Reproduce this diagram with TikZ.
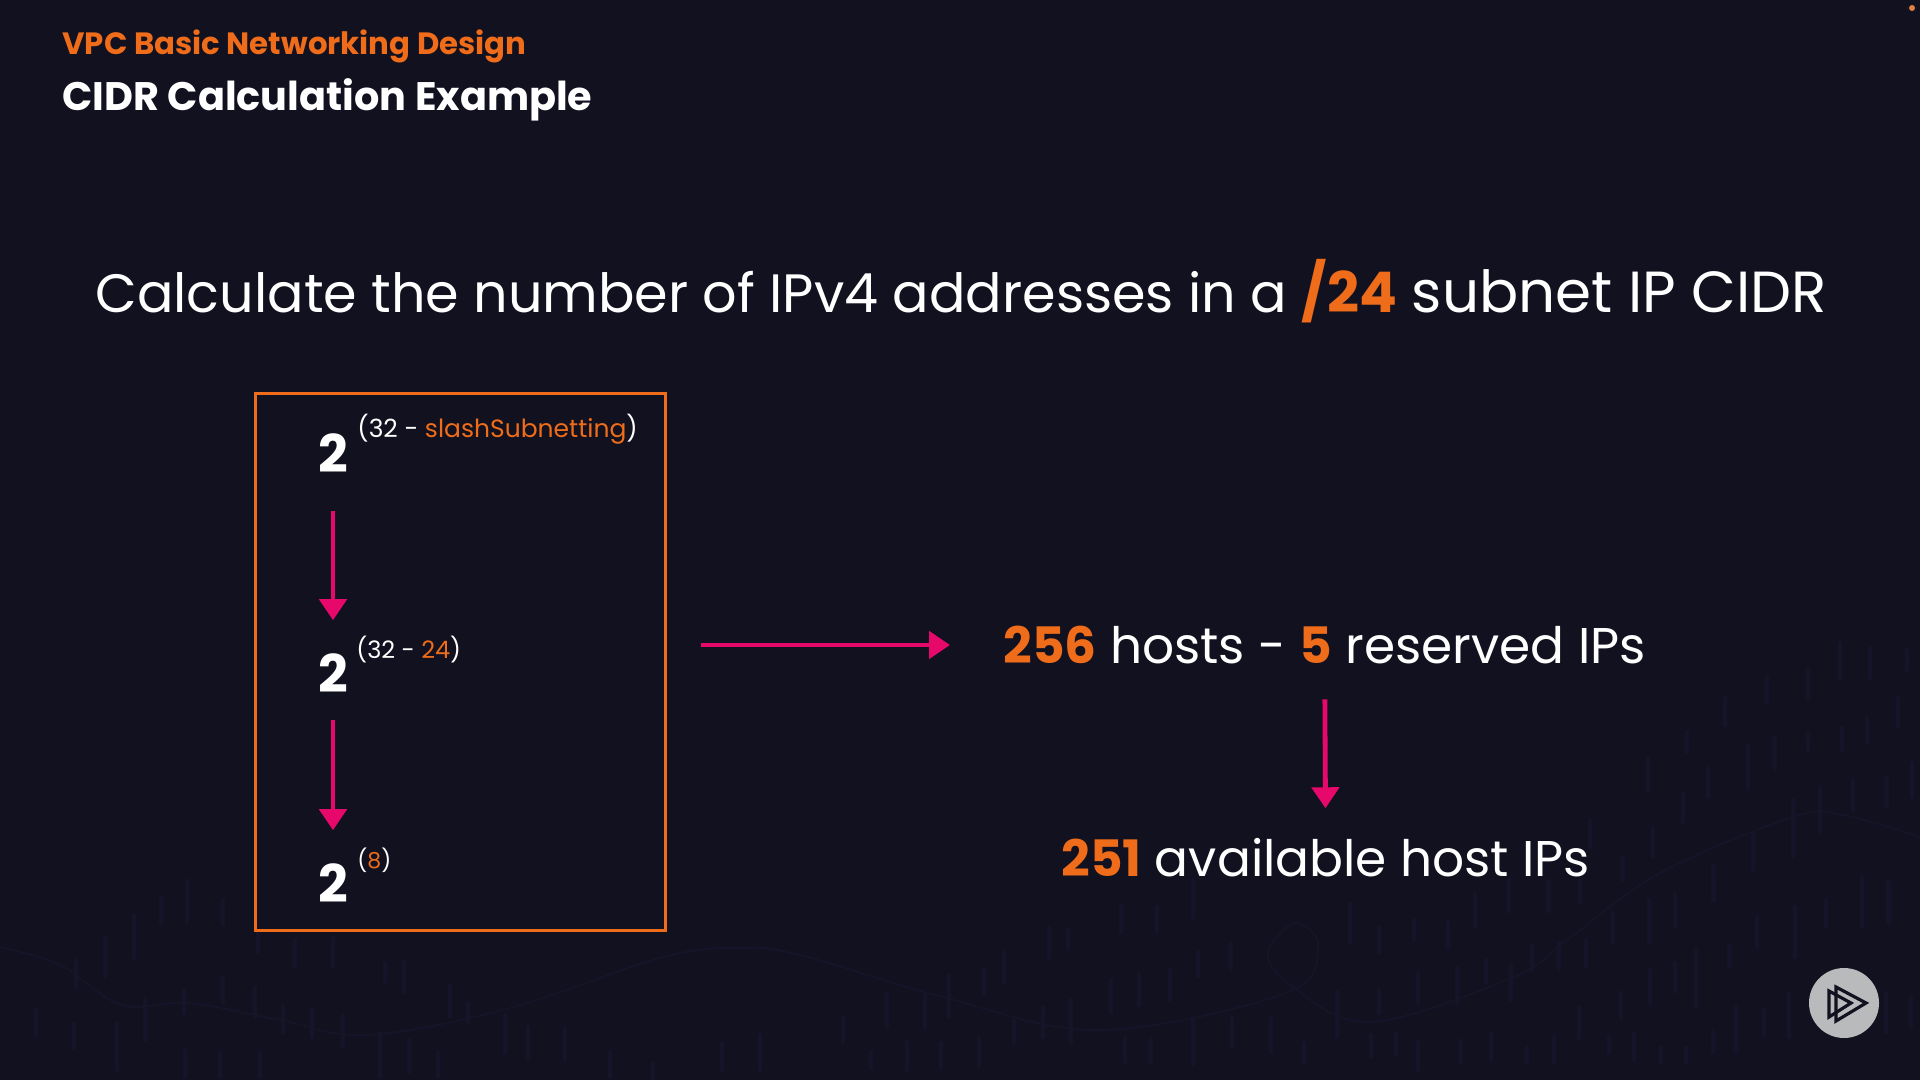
\documentclass[tikz,border=0pt]{standalone}
\usepackage{fontspec}
\setmainfont{Poppins}
\usepackage{xcolor}
\usetikzlibrary{positioning,arrows.meta}
\definecolor{psBack}{HTML}{12111F}
\definecolor{psTick}{HTML}{161428}
\definecolor{psOrange}{HTML}{EE6C1A}
\definecolor{psPink}{HTML}{E6086B}
\definecolor{psLogo}{HTML}{B9BABC}
\tikzset{
  ps-text/.style={text=white, inner sep=0pt, anchor=west},
  ps-kicker/.style={ps-text, text=psOrange, font=\fontsize{15.4}{18}\selectfont\bfseries},
  ps-title/.style={ps-text, font=\fontsize{19.9}{23}\selectfont\bfseries},
  ps-lead/.style={ps-text, font=\fontsize{27}{32}\selectfont},
  ps-base/.style={text=white, inner sep=0pt, font=\fontsize{26}{30}\selectfont\bfseries},
  ps-exp/.style={ps-text, font=\fontsize{12.5}{15}\selectfont},
  ps-result/.style={ps-text, font=\fontsize{25.1}{29}\selectfont},
  ps-frame/.style={draw=psOrange, line width=1.5pt, minimum width=205pt, minimum height=268.5pt, inner sep=0pt},
  ps-flow/.style={-{Triangle[length=10.5pt,width=13.5pt]}, line width=2.4pt, draw=psPink},
  ps-tick/.style={draw=psTick, line width=2pt, line cap=round},
  ps-wave/.style={draw=psTick, line width=0.9pt},
  ps-mark/.style={draw=psBack, line width=1.6pt, line join=miter}
}
\newcommand{\hl}[1]{\textcolor{psOrange}{#1}}
\newcommand{\hlb}[1]{\textcolor{psOrange}{\bfseries #1}}
\begin{document}
\begin{tikzpicture}[x=0.5pt, y=-0.5pt]
\fill[psBack] (0,0) rectangle (1920,1080);
\useasboundingbox (0,0) rectangle (1920,1080);
% --- Texture ---
\foreach \tx/\ta/\tb in {187/880/923,161/897/923,223/900/925,134/915/958,105/937/977,76/960/987,
  258/933/952,295/940/967,333/938/967,385/963/982,404/962/993,450/985/1017,468/1003/1023,
  223/977/1003,255/987/1017,184/990/1013,145/998/1040,283/1005/1033,312/1008/1037,343/1015/1047,
  380/1033/1077,409/1040/1072,438/1052/1077,505/1015/1053,528/1027/1060,565/1028/1060,36/1010/1035,
  74/1023/1048,117/1023/1070,185/1050/1077,220/1053/1077,260/1053/1077,610/1052/1077,722/1043/1070,
  760/1035/1070,653/1063/1080,1121/905/932,1157/907/932,1193/880/918,1049/927/958,1068/930/948,
  1004/952/983,984/968/995,949/975/1017,925/995/1028,887/993/1027,843/1017/1043,1014/1020/1043,
  1043/1007/1037,1071/1000/1043,1111/980/1013,1139/973/1005,1170/970/1000,1198/952/977,1231/943/970,
  1193/1018/1065,1232/1018/1048,1271/1018/1052,1125/1038/1062,1151/1038/1063,979/1037/1067,
  941/1043/1068,907/1042/1070,871/1052/1068,1350/903/943,1379/927/953,1414/920/940,1448/922/948,
  1475/893/927,1509/880/912,1549/880/912,1580/880/902,1532/945/970,1559/943/970,1586/940/967,
  1613/913/943,1649/900/943,1675/893/927,1714/880/900,1757/917/947,1795/907/957,1826/900/927,
  1862/887/923,1889/883/923,1486/960/983,1511/965/1000,1457/968/1003,1418/973/1003,1379/990/1013,
  1337/992/1037,1304/1043/1063,1371/1035/1057,1396/1033/1055,1418/1042/1070,1461/1040/1063,
  1491/1033/1060,1527/1047/1063,1554/1037/1063,1579/1007/1038,1609/1037/1053,1634/1033/1060,
  1661/1047/1063,1686/1047/1063,1713/1030/1052,1736/1007/1052,1764/1010/1035,1789/993/1037,
  1621/992/1018,1650/970/1003,1675/963/992,1696/948/1007,1729/945/967,1886/993/1033,1911/997/1027,
  1840/643/680,1870/648/678,1907/650/670,1808/668/700,1767/677/703,1725/698/725,1898/698/727,
  1867/718/743,1842/727/750,1808/732/750,1775/737/770,1748/745/788,1687/732/752,1708/768/797,
  1648/757/792,1683/793/822,1912/763/797,1887/777/807,1853/780/810,1820/788/832,1793/800/857,
  1753/833/870,1713/865/900,1653/828/857,1623/857/880,1590/820/847,1675/893/923,1580/880/902,
  1548/883/910,1862/877/927,1888/880/923}
  \draw[ps-tick] (\tx,\ta) -- (\tx,\tb);
\draw[ps-wave] plot[smooth, tension=0.6] coordinates {(0,947) (60,965) (122,1005) (189,1003) (280,1020)
  (367,1035) (510,1008) (663,957) (740,948) (800,955) (943,997) (1100,1030) (1286,993) (1318,947)
  (1296,923) (1268,953) (1293,987) (1371,1022) (1514,977) (1567,940) (1660,873) (1793,817)
  (1843,815) (1920,837)};
% --- Heading ---
\node[ps-kicker] (kicker) at (62,46) {VPC Basic Networking Design};
\node[ps-title] (title) at (62,100) {CIDR Calculation Example};
\node[ps-lead] (lead) at (95,291) {Calculate the number of IPv4 addresses in a {\fontsize{28}{32}\selectfont\hlb{/24} \fontsize{29}{32}\selectfont subnet IP CIDR}};
% --- Formula ---
\node[ps-frame] (frame) at (460.5,662) {};
\node[ps-base] (baseA) at (333,453) {2};
\node[ps-base] (baseB) at (333,673) {2};
\node[ps-base] (baseC) at (333,883) {2};
\node[ps-exp] (expA) at (357,429) {(32 - \hl{slashSubnetting})};
\node[ps-exp, font=\fontsize{12}{15}\selectfont] (expB) at (356,650) {(32 - \hl{24})};
\node[ps-exp, font=\fontsize{11}{15}\selectfont] (expC) at (357,860) {(\hl{8})};
% --- Result ---
\node[ps-result] (hosts) at (1003,645) {\hlb{256} hosts - \hlb{5} reserved IPs};
\node[ps-result] (avail) at (1061,858) {\hlb{251} available host IPs};
% --- Flow ---
\draw[ps-flow, shorten <=19pt, shorten >=16.5pt] (baseA) -- (baseB);
\draw[ps-flow, shorten <=13.5pt, shorten >=16.5pt] (baseB) -- (baseC);
\draw[ps-flow, shorten <=17pt, shorten >=26.5pt] (frame.east |- hosts.west) -- (hosts.west);
\draw[ps-flow, shorten <=17.5pt, shorten >=15pt] (hosts) -- (avail);
% --- Mark ---
\node[circle, fill=psLogo, minimum size=35pt, inner sep=0pt] (logo) at (1844,1003) {};
\draw[ps-mark] (1836,987) -- (1866,1003) -- (1836,1021) -- cycle;
\draw[ps-mark] (1829,991) -- (1851,1003) -- (1829,1017) -- cycle;
\node[circle, fill=psOrange!75!psLogo, minimum size=3pt, inner sep=0pt] (dot) at (1912,8) {};
\end{tikzpicture}
\end{document}
